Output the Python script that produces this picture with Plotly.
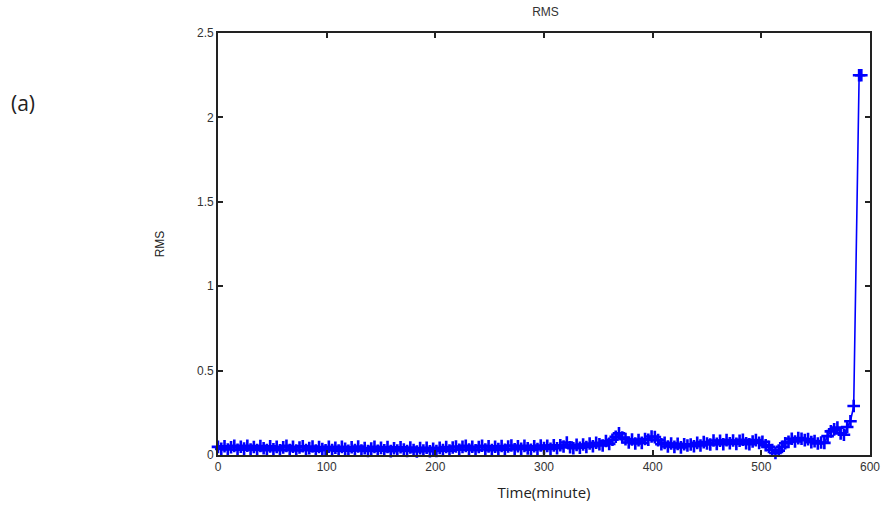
import plotly.graph_objects as go

time_minutes = [
    0, 3, 6, 9, 12, 15, 18, 21, 24, 27, 30, 33, 36, 39, 42, 45, 48, 51, 54, 57,
    60, 63, 66, 69, 72, 75, 78, 81, 84, 87, 90, 93, 96, 99,
    102, 105, 108, 111, 114, 117, 120, 123, 126, 129, 132, 135, 138, 141, 144, 147,
    150, 153, 156, 159, 162, 165, 168, 171, 174, 177, 180, 183, 186, 189, 192, 195, 198,
    201, 204, 207, 210, 213, 216, 219, 222, 225, 228, 231, 234, 237, 240, 243, 246,
    249, 252, 255, 258, 261, 264, 267, 270, 273, 276, 279, 282, 285, 288, 291, 294, 297, 300,
    303, 306, 309, 312, 315, 318, 321, 324, 327, 330, 333, 336, 339, 342, 345, 348,
    351, 354, 357, 360, 363, 366, 369, 372, 375, 378, 381, 384, 387, 390, 393, 396, 399,
    402, 405, 408, 411, 414, 417, 420, 423, 426, 429, 432, 435, 438, 441, 444, 447,
    450, 453, 456, 459, 462, 465, 468, 471, 474, 477, 480, 483, 486, 489, 492, 495, 498,
    501, 504, 507, 510, 513, 516, 519, 522, 525, 528, 531, 534, 537, 540, 543, 546,
    549, 552, 555, 558, 561, 564, 567, 570, 573, 576, 579, 582, 585,
    590, 592,
]

rms_values = [
    0.048, 0.036, 0.052, 0.033, 0.046, 0.054, 0.031, 0.049, 0.038, 0.055,
    0.032, 0.047, 0.030, 0.053, 0.040, 0.029, 0.051, 0.034, 0.048, 0.028,
    0.045, 0.054, 0.030, 0.049, 0.027, 0.044, 0.052, 0.029, 0.041, 0.050,
    0.026, 0.047, 0.035, 0.028,
    0.049, 0.030, 0.043, 0.026, 0.048, 0.036, 0.025, 0.046, 0.029, 0.050,
    0.027, 0.041, 0.024, 0.038, 0.048, 0.025, 0.042, 0.028, 0.047, 0.023,
    0.040, 0.027, 0.046, 0.033, 0.024, 0.044, 0.029, 0.021, 0.041, 0.026,
    0.043, 0.022, 0.037,
    0.024, 0.042, 0.030, 0.047, 0.026, 0.044, 0.050, 0.031, 0.048, 0.054,
    0.032, 0.049, 0.028, 0.047, 0.055, 0.033, 0.051, 0.029, 0.049, 0.035,
    0.053, 0.031, 0.050, 0.056, 0.034, 0.052, 0.036, 0.054, 0.039, 0.031,
    0.052, 0.035, 0.056, 0.041,
    0.054, 0.036, 0.057, 0.040, 0.058, 0.050, 0.074, 0.046, 0.040, 0.060,
    0.043, 0.062, 0.047, 0.068, 0.052, 0.073, 0.064, 0.056, 0.083, 0.066,
    0.090, 0.108, 0.128, 0.104, 0.094, 0.074, 0.092, 0.068, 0.088, 0.072,
    0.095, 0.090, 0.110,
    0.106, 0.088, 0.064, 0.072, 0.050, 0.068, 0.048, 0.066, 0.045, 0.064,
    0.056, 0.062, 0.052, 0.072, 0.056, 0.076, 0.068, 0.062, 0.086, 0.066,
    0.084, 0.064, 0.088, 0.070, 0.086, 0.066, 0.084, 0.090, 0.070, 0.064,
    0.080, 0.088, 0.072,
    0.078, 0.058, 0.048, 0.030, 0.012, 0.026, 0.048, 0.070, 0.078, 0.096,
    0.080, 0.100, 0.096, 0.088, 0.094, 0.076, 0.082, 0.068, 0.074, 0.072,
    0.112, 0.140, 0.152, 0.162, 0.128, 0.120, 0.166, 0.200, 0.290,
    2.25, 2.25,
]

x_ticks = [0, 100, 200, 300, 400, 500, 600]
y_ticks = [0, 0.5, 1, 1.5, 2, 2.5]
y_tick_labels = ["0", "0.5", "1", "1.5", "2", "2.5"]

fig = go.Figure()
fig.add_trace(go.Scatter(
    x=time_minutes, y=rms_values, mode="lines+markers",
    line=dict(color="#0000ff", width=1.6),
    marker=dict(symbol="cross-thin-open", size=9, color="#0000ff",
                line=dict(color="#0000ff", width=2.6)),
    showlegend=False, cliponaxis=False,
))

axis_common = dict(
    showline=True, linecolor="#222222", linewidth=1.8, mirror="ticks",
    ticks="inside", ticklen=5, tickwidth=1.8, tickcolor="#222222",
    showgrid=False, zeroline=False,
    tickfont=dict(family="Liberation Sans, Arial, sans-serif", size=12, color="#333333"),
)

fig.update_xaxes(range=[0, 600], tickvals=x_ticks, **axis_common,
                 title=dict(text="Time(minute)", standoff=14,
                            font=dict(family="Open Sans, sans-serif", size=15, color="#222222")))
fig.update_yaxes(range=[0, 2.5], tickvals=y_ticks, ticktext=y_tick_labels, **axis_common,
                 title=dict(text="RMS", standoff=30,
                            font=dict(family="Liberation Sans, Arial, sans-serif", size=12, color="#222222")))

fig.update_layout(
    width=892, height=518,
    margin=dict(l=218, r=19, t=33, b=63),
    paper_bgcolor="white", plot_bgcolor="white",
    title=dict(text="RMS", x=(218 + 873) / 2 / 892, xanchor="center", y=1 - 12 / 518, yanchor="middle",
               font=dict(family="Liberation Sans, Arial, sans-serif", size=12, color="#333333")),
    annotations=[dict(text="(a)", xref="paper", yref="paper",
                      x=-210 / 655, y=(455 - 103) / 422, xanchor="left", yanchor="middle",
                      showarrow=False,
                      font=dict(family="Open Sans, sans-serif", size=21, color="#222222"))],
)

fig.write_html("out.html")
